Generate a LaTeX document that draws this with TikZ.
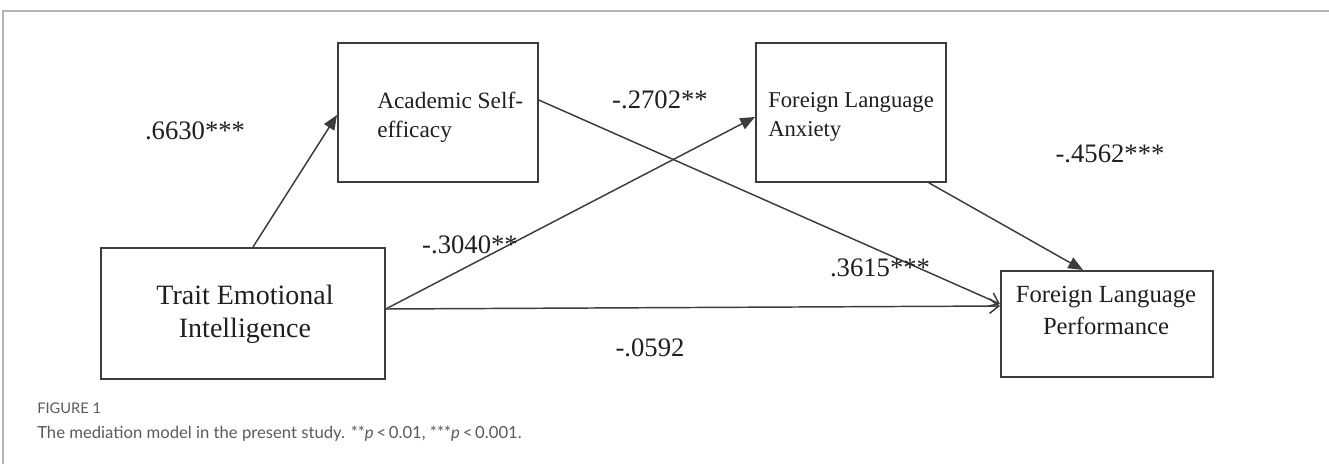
\documentclass[tikz,border=0pt]{standalone}
\usepackage{fontspec}
\setmainfont{Liberation Serif}
\newfontfamily\capfont{Lato}
\usetikzlibrary{arrows.meta,calc}
\definecolor{ink}{HTML}{3C3C3C}
\definecolor{capgray}{HTML}{5A5A5A}
\definecolor{framegray}{HTML}{B4B4B4}
\tikzset{
  box/.style={draw=ink, line width=1.3pt, rectangle, inner sep=0pt, anchor=north west},
  boxtext/.style={anchor=base west, inner sep=0pt, text=black!88},
  boxtextc/.style={anchor=base, inner sep=0pt, text=black!88},
  coef/.style={anchor=base, inner sep=0pt, font=\fontsize{20}{22}\selectfont, text=black!88},
  link/.style={draw=ink, line width=1.1pt},
  solidhead/.style={link, -{Triangle[length=11pt,width=9pt]}},
  openhead/.style={link, -{Straight Barb[length=7pt,width=11pt]}},
}
\begin{document}
\begin{tikzpicture}[x=0.75pt,y=-0.75pt]
\useasboundingbox (0,0) rectangle (1329,464);
% frame
\draw[framegray, line width=1.5pt] (3,464) -- (3,11) -- (1329,11);
% boxes
\node[box, minimum width={200*0.75pt}, minimum height={139*0.75pt}] (ase) at (337,42) {};
\node[box, minimum width={190*0.75pt}, minimum height={139*0.75pt}] (fla) at (755,42) {};
\node[box, minimum width={284*0.75pt}, minimum height={131*0.75pt}] (tei) at (100,247) {};
\node[box, minimum width={212*0.75pt}, minimum height={106*0.75pt}] (flp) at (1000,270) {};
% box texts
\node[boxtext, font=\fontsize{17.5}{20}\selectfont] (aseA) at (377,108) {Academic Self-};
\node[boxtext, font=\fontsize{17.5}{20}\selectfont] (aseB) at (377,137) {efficacy};
\node[boxtext, font=\fontsize{17}{20}\selectfont] (flaA) at (768,107) {Foreign Language};
\node[boxtext, font=\fontsize{17}{20}\selectfont] (flaB) at (768,136) {Anxiety};
\node[boxtextc, font=\fontsize{21}{24}\selectfont] (teiA) at (245,304) {Trait Emotional};
\node[boxtextc, font=\fontsize{21}{24}\selectfont] (teiB) at (245,337) {Intelligence};
\node[boxtextc, font=\fontsize{18.5}{21}\selectfont] (flpA) at (1106,302) {Foreign Language};
\node[boxtextc, font=\fontsize{18.5}{21}\selectfont] (flpB) at (1106,334) {Performance};
% connectors
\draw[solidhead] ($(tei.north west)+(153,0)$) -- ($(ase.north west)+(0,73)$);
\draw[openhead] ($(ase.north east)+(0,58)$) -- ($(flp.north west)+(0,34)$);
\draw[solidhead] ($(tei.north east)+(0,62)$) -- ($(fla.north west)+(0,75)$);
\draw[openhead] ($(tei.north east)+(0,62)$) -- ($(flp.north west)+(0,36)$);
\draw[solidhead] ($(fla.south east)+(-18,0)$) -- ($(flp.north west)+(83,0)$);
% coefficients
\node[coef] (c1) at (195,139) {.6630***};
\node[coef] (c2) at (660,108) {-.2702**};
\node[coef] (c3) at (470,253) {-.3040**};
\node[coef] (c4) at (880,276) {.3615***};
\node[coef] (c5) at (1110,162) {-.4562***};
\node[coef] (c6) at (650,356) {-.0592};
% caption
\node[anchor=base west, inner sep=0pt, text=capgray, font=\capfont\fontsize{11}{13}\selectfont] (figlab) at (37,413) {FIGURE 1};
\node[anchor=base west, inner sep=0pt, text=capgray, font=\capfont\fontsize{12.5}{14}\selectfont] (cap) at (37,438) {The mediation model in the present study. **\textit{p}\,<\,0.01, ***\textit{p}\,<\,0.001.};
\end{tikzpicture}
\end{document}
